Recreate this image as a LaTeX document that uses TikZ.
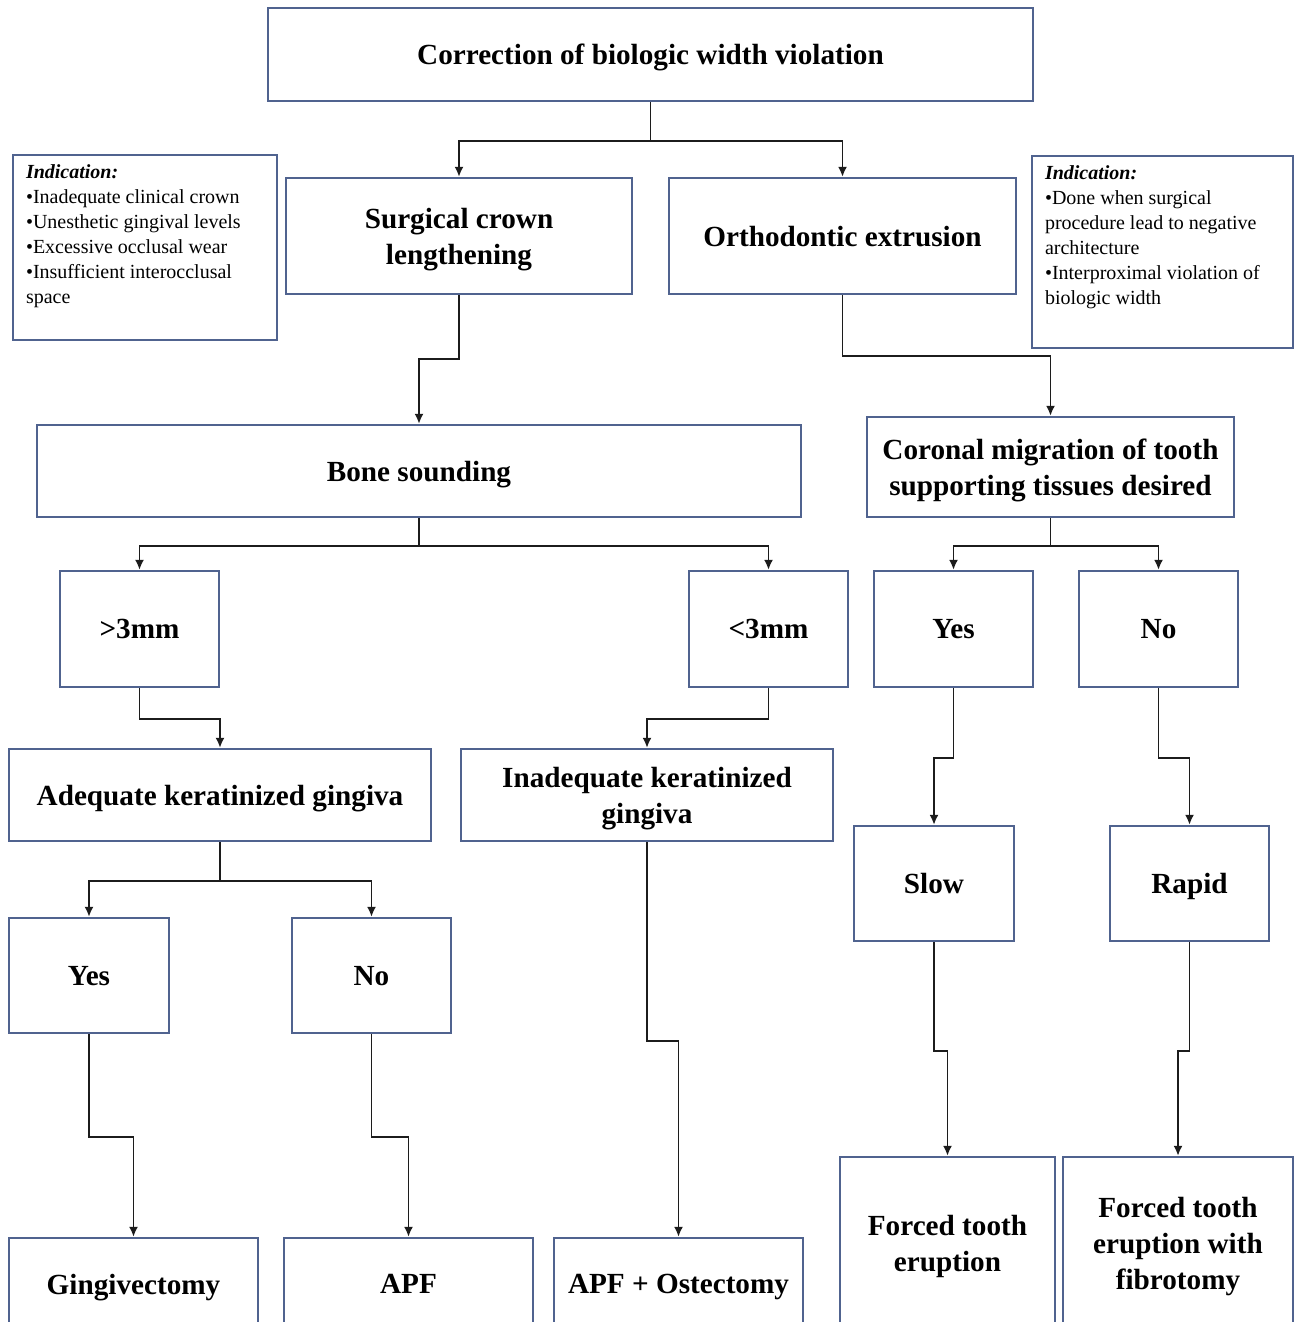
\documentclass[tikz,border=0pt]{standalone}
\usepackage{fontspec}
\setmainfont{Liberation Serif}
\usepackage{xcolor}
\usepackage{tikz}
\usetikzlibrary{arrows.meta}
\definecolor{BoxBlue}{HTML}{50638F}
\definecolor{LineGray}{HTML}{1C1C1C}

\tikzset{
  box/.style = {draw = BoxBlue, line width = 1.2pt, fill = white, align = center,
    inner sep = 0pt, text depth = 0pt, font = \fontsize{14.6}{18}\selectfont\bfseries},
  notebox/.style = {draw = BoxBlue, line width = 1.2pt, fill = white,
    inner xsep = 6.5pt, inner ysep = 5pt, font = \fontsize{10}{12.5}\selectfont},
  arr/.style = {-{Latex[length = 5pt, width = 4.5pt]}, draw = LineGray, line width = .9pt}
}

\begin{document}
\begin{tikzpicture}[x = .5pt, y = -.5pt]
  \useasboundingbox (0,0) rectangle (1295,1322);
  \clip (0,0) rectangle (1295,1322);

  \node[box, minimum width = 382.5pt, minimum height = 46.5pt] (top) at (650.5,54.5)
    {Correction of biologic width violation};

  \node[notebox] (lind) at (145,247.5)
    {\parbox[c][82.5pt][t]{119pt}{\raggedright\textbf{\textit{Indication:}}\\
      •Inadequate clinical crown\\
      •Unesthetic gingival levels\\
      •Excessive occlusal wear\\
      •Insufficient interocclusal\\
      space}};
  \node[notebox] (rind) at (1162.5,252)
    {\parbox[c][86pt][t]{117.5pt}{\raggedright\textbf{\textit{Indication:}}\\
      •Done when surgical\\
      procedure lead to negative\\
      architecture\\
      •Interproximal violation of\\
      biologic width}};

  \node[box, minimum width = 173pt, minimum height = 58pt] (scl) at (459,236)
    {Surgical crown\\lengthening};
  \node[box, minimum width = 173.5pt, minimum height = 58pt] (ortho) at (842.5,236)
    {Orthodontic extrusion};

  \node[box, minimum width = 382pt, minimum height = 46pt] (bone) at (419,471)
    {Bone sounding};
  \node[box, minimum width = 183.5pt, minimum height = 50pt] (coronal) at (1050.5,467)
    {Coronal migration of tooth\\supporting tissues desired};

  \node[box, minimum width = 79.5pt, minimum height = 58pt] (gt3) at (139.5,629) {>3mm};
  \node[box, minimum width = 79.5pt, minimum height = 58pt] (lt3) at (768.5,629) {<3mm};
  \node[box, minimum width = 79.5pt, minimum height = 58pt] (yesr) at (953.5,629) {Yes};
  \node[box, minimum width = 79.5pt, minimum height = 58pt] (nor) at (1158.5,629) {No};

  \node[box, minimum width = 211pt, minimum height = 46pt] (adequate) at (220,795)
    {Adequate keratinized gingiva};
  \node[box, minimum width = 186pt, minimum height = 46pt] (inadequate) at (647,795)
    {Inadequate keratinized\\gingiva};

  \node[box, minimum width = 80pt, minimum height = 57.5pt] (slow) at (934,883.5) {Slow};
  \node[box, minimum width = 79.5pt, minimum height = 57.5pt] (rapid) at (1189.5,883.5) {Rapid};

  \node[box, minimum width = 80pt, minimum height = 57.5pt] (yesl) at (89,975.5) {Yes};
  \node[box, minimum width = 79.5pt, minimum height = 57.5pt] (nol) at (371.5,975.5) {No};

  \node[box, minimum width = 124.5pt, minimum height = 46pt] (gingivectomy) at (133.5,1284)
    {Gingivectomy};
  \node[box, minimum width = 124.5pt, minimum height = 46pt] (apf) at (408.5,1284) {APF};
  \node[box, minimum width = 124.5pt, minimum height = 46pt] (apfo) at (678.5,1284)
    {APF + Ostectomy};
  \node[box, minimum width = 107.5pt, minimum height = 86.5pt] (forced) at (947.5,1243.5)
    {Forced tooth\\eruption};
  \node[box, minimum width = 115pt, minimum height = 86.5pt] (forcedf) at (1178,1243.5)
    {Forced tooth\\eruption with\\fibrotomy};

  \draw[arr] (top.south) -- ++(0,39) -| (scl.north);
  \draw[arr] (top.south) -- ++(0,39) -| (ortho.north);

  \draw[arr] (scl.south) -- ++(0,64) -| (bone.north);
  \draw[arr] (ortho.south) -- ++(0,61) -| (coronal.north);

  \draw[arr] (bone.south) -- ++(0,28) -| (gt3.north);
  \draw[arr] (bone.south) -- ++(0,28) -| (lt3.north);
  \draw[arr] (coronal.south) -- ++(0,28) -| (yesr.north);
  \draw[arr] (coronal.south) -- ++(0,28) -| (nor.north);

  \draw[arr] (gt3.south) -- ++(0,31) -| (adequate.north);
  \draw[arr] (lt3.south) -- ++(0,31) -| (inadequate.north);
  \draw[arr] (yesr.south) -- ++(0,70) -| (slow.north);
  \draw[arr] (nor.south) -- ++(0,70) -| (rapid.north);

  \draw[arr] (adequate.south) -- ++(0,39) -| (yesl.north);
  \draw[arr] (adequate.south) -- ++(0,39) -| (nol.north);
  \draw[arr] (inadequate.south) -- ++(0,199) -| (apfo.north);

  \draw[arr] (yesl.south) -- ++(0,103) -| (gingivectomy.north);
  \draw[arr] (nol.south) -- ++(0,103) -| (apf.north);
  \draw[arr] (slow.south) -- ++(0,109) -| (forced.north);
  \draw[arr] (rapid.south) -- ++(0,109) -| (forcedf.north);
\end{tikzpicture}
\end{document}
